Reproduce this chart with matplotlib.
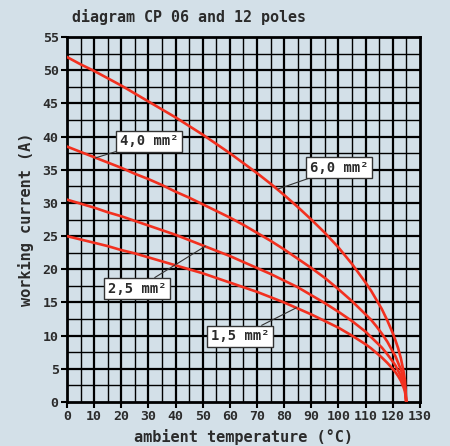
import matplotlib.pyplot as plt
import numpy as np

# ambient temperature (C) at which the currents were read
temp = [0, 5, 10, 15, 20, 25, 30, 35, 40, 45, 50, 55, 60, 65, 70, 75, 80, 85, 90, 95,
        100, 105, 110, 112, 114, 116, 118, 120, 121, 122, 123, 124, 124.5, 125]

# working current (A) per cross-section
cur_6_0 = [52.0, 50.9, 49.9, 48.8, 47.7, 46.5, 45.3, 44.1, 42.9, 41.6, 40.3, 38.9, 37.5, 36.0,
           34.5, 32.9, 31.2, 29.4, 27.5, 25.5, 23.3, 20.8, 18.0, 16.8, 15.4, 14.0, 12.3, 10.4,
           9.3, 8.1, 6.6, 4.6, 3.3, 0]
cur_4_0 = [38.5, 37.7, 36.9, 36.1, 35.3, 34.4, 33.6, 32.7, 31.7, 30.8, 29.8, 28.8, 27.8, 26.7,
           25.5, 24.3, 23.0, 21.6, 20.2, 18.7, 17.0, 15.2, 13.2, 12.4, 11.4, 10.3, 9.1, 7.6,
           6.9, 5.9, 4.9, 3.4, 2.4, 0]
cur_2_5 = [30.5, 29.9, 29.3, 28.6, 28.0, 27.3, 26.6, 25.9, 25.2, 24.4, 23.6, 22.8, 22.0, 21.1,
           20.2, 19.3, 18.3, 17.3, 16.1, 14.9, 13.6, 12.2, 10.6, 9.8, 9.0, 8.2, 7.2, 6.1,
           5.5, 4.7, 3.9, 2.7, 1.9, 0]
cur_1_5 = [25.0, 24.5, 24.0, 23.5, 22.9, 22.4, 21.8, 21.2, 20.6, 20.0, 19.4, 18.7, 18.0, 17.3,
           16.6, 15.8, 15.0, 14.1, 13.2, 12.2, 11.2, 10.0, 8.7, 8.1, 7.4, 6.7, 5.9, 5.0,
           4.5, 3.9, 3.2, 2.2, 1.6, 0]

labels = ["6,0 mm²", "4,0 mm²", "2,5 mm²", "1,5 mm²"]
xticks = list(range(0, 131, 10))
yticks = list(range(0, 56, 5))

BG = "#d3e0e8"
RED = "#f2301f"
TXT = "#2b2b2b"
FONT = "DejaVu Sans Mono"

fig = plt.figure(figsize=(4.5, 4.46), dpi=100, facecolor=BG)
ax = fig.add_axes([0.149, 0.0987, 0.784, 0.818])
ax.set_facecolor(BG)

# grid: every 5 C and every 2.5 A, heavier on the labelled values
for x in np.arange(5, 130, 5):
    ax.axvline(x, color="black", lw=1.6 if x % 10 == 0 else 1.0, zorder=1)
for y in np.arange(2.5, 55, 2.5):
    ax.axhline(y, color="black", lw=1.6 if y % 5 == 0 else 1.0, zorder=1)

for cur in [cur_6_0, cur_4_0, cur_2_5, cur_1_5]:
    ax.plot(temp, cur, color=RED, lw=1.9, zorder=3, solid_joinstyle="round")

ax.set_xlim(0, 130)
ax.set_ylim(0, 55)
for s in ax.spines.values():
    s.set_linewidth(2.0)
    s.set_color("black")

ax.set_xticks(xticks)
ax.set_yticks(yticks)
ax.tick_params(axis="both", length=4, width=1.5, color="black", pad=2,
               labelsize=9.5, labelcolor=TXT)
for t in ax.get_xticklabels() + ax.get_yticklabels():
    t.set_fontfamily(FONT)
    t.set_fontweight("bold")

ax.set_xlabel("ambient temperature (°C)", fontsize=11, fontweight="bold",
              family=FONT, color=TXT, labelpad=4)
ax.set_ylabel("working current (A)", fontsize=11, fontweight="bold",
              family=FONT, color=TXT, labelpad=6)
fig.text(0.16, 0.945, "diagram CP 06 and 12 poles", fontsize=10.8, fontweight="bold",
         family=FONT, color=TXT, ha="left", va="bottom")

# labels with leader lines: (text position, curve point)
notes = [
    (labels[0], (100.2, 35.3), (77.7, 32.1)),
    (labels[1], (30.2, 39.3), (10.5, 36.8)),
    (labels[2], (25.8, 17.1), (51.0, 23.5)),
    (labels[3], (63.7, 9.9), (84.5, 14.2)),
]
box = dict(boxstyle="square,pad=0.25", fc="white", ec="#333333", lw=1.0)
for txt, tpos, cpos in notes:
    ax.annotate(txt, xy=cpos, xytext=tpos, ha="center", va="center",
                fontsize=10, fontweight="bold", family=FONT, color=TXT,
                bbox=box, zorder=5,
                arrowprops=dict(arrowstyle="-", color="#333333", lw=0.8,
                                shrinkA=0, shrinkB=0))

fig.savefig("out.png", dpi=100, facecolor=BG)
